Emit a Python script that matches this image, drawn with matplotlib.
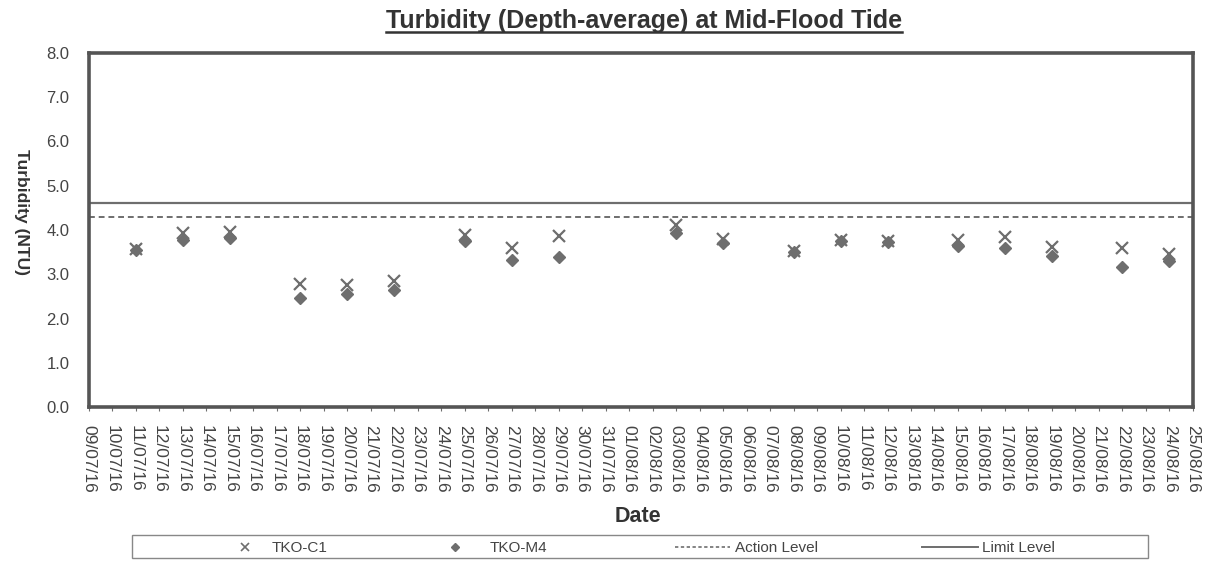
import datetime as dt
import matplotlib
matplotlib.use("Agg")
import matplotlib.pyplot as plt
import matplotlib.dates as mdates
from matplotlib.lines import Line2D
from matplotlib.patches import Rectangle

plt.rcParams['font.family'] = ['Liberation Sans', 'DejaVu Sans']

# sampling dates and depth-averaged turbidity (NTU)
dates = ['11/07/16', '13/07/16', '15/07/16', '18/07/16', '20/07/16', '22/07/16',
         '25/07/16', '27/07/16', '29/07/16', '03/08/16', '05/08/16', '08/08/16',
         '10/08/16', '12/08/16', '15/08/16', '17/08/16', '19/08/16', '22/08/16',
         '24/08/16']
tko_c1 = [3.57, 3.93, 3.96, 2.78, 2.76, 2.84, 3.88, 3.60, 3.86, 4.12, 3.80, 3.52,
          3.78, 3.75, 3.78, 3.84, 3.62, 3.60, 3.45]
tko_m4 = [3.55, 3.77, 3.82, 2.47, 2.56, 2.65, 3.76, 3.33, 3.38, 3.94, 3.70, 3.50,
          3.76, 3.73, 3.63, 3.60, 3.41, 3.16, 3.30]
action_level = 4.3
limit_level = 4.6
start, end = '09/07/16', '25/08/16'
labels = ['TKO-C1', 'TKO-M4', 'Action Level', 'Limit Level']

to_date = lambda s: dt.datetime.strptime(s, '%d/%m/%y')
x = [to_date(d) for d in dates]
x0, x1 = to_date(start), to_date(end)

grey = '#6e6e6e'
W, H = 1208, 563
fig = plt.figure(figsize=(W / 100, H / 100), dpi=100)
ax = fig.add_axes([0.0735, 0.277, 0.914, 0.629])

ax.axhline(limit_level, color=grey, lw=1.6)
ax.axhline(action_level, color=grey, lw=1.4, ls=(0, (3, 2)))
ax.plot(x, tko_c1, ls='none', marker='x', ms=9, mew=1.6, color=grey)
ax.plot(x, tko_m4, ls='none', marker='D', ms=6, color=grey)

ax.set_xlim(x0, x1)
ax.set_ylim(0, 8)
ax.set_yticks([i for i in range(9)])
ax.yaxis.set_major_formatter(plt.FormatStrFormatter('%.1f'))
ax.xaxis.set_major_locator(mdates.DayLocator())
ax.xaxis.set_major_formatter(mdates.DateFormatter('%d/%m/%y'))
ax.tick_params(axis='x', labelrotation=270, labelsize=12.5, length=3, color=grey, pad=10,
               labelcolor='#444444')
ax.tick_params(axis='y', labelsize=12, length=0, pad=14, labelcolor='#444444')
for lab in ax.get_xticklabels():
    lab.set_verticalalignment('top')
for s in ax.spines.values():
    s.set_color('#555555')
    s.set_linewidth(2.6)

fig.text(0.528, 0.082, 'Date', fontsize=15.5, fontweight='bold',
         ha='center', va='center', color='#333333')
fig.text(0.018, 0.623, 'Turbidity (NTU)', rotation=270, fontsize=12.5, fontweight='bold',
         ha='center', va='center', color='#333333')

title = fig.text(0.533, 0.962, 'Turbidity (Depth-average) at Mid-Flood Tide', fontsize=18,
                 fontweight='bold', ha='center', va='center', color='#333333')
fig.canvas.draw()
bb = title.get_window_extent().transformed(fig.transFigure.inverted())
fig.add_artist(Line2D([bb.x0, bb.x1], [bb.y0 + 0.002, bb.y0 + 0.002], color='#333333',
                      lw=1.8, transform=fig.transFigure))

# legend drawn by hand so each entry sits where it does in the original
fx = lambda px: px / W
fy = 1 - 546.5 / H
tf = fig.transFigure
fig.add_artist(Rectangle((fx(132), 1 - 558 / H), fx(1148 - 132), 23 / H, transform=tf,
                         fill=False, ec='#888888', lw=1.0))
fig.add_artist(Line2D([fx(245)], [fy], ls='none', marker='x', ms=6, mew=1.2, color=grey, transform=tf))
fig.add_artist(Line2D([fx(455)], [fy], ls='none', marker='D', ms=4, color=grey, transform=tf))
fig.add_artist(Line2D([fx(675), fx(730)], [fy, fy], ls=(0, (2, 1.5)), lw=1.2, color=grey, transform=tf))
fig.add_artist(Line2D([fx(922), fx(978)], [fy, fy], lw=1.4, color=grey, transform=tf))
for px, lab in zip([272, 490, 735, 982], labels):
    fig.text(fx(px), fy, lab, fontsize=11, ha='left', va='center_baseline', color='#444444')

fig.savefig('out.png', dpi=100)
